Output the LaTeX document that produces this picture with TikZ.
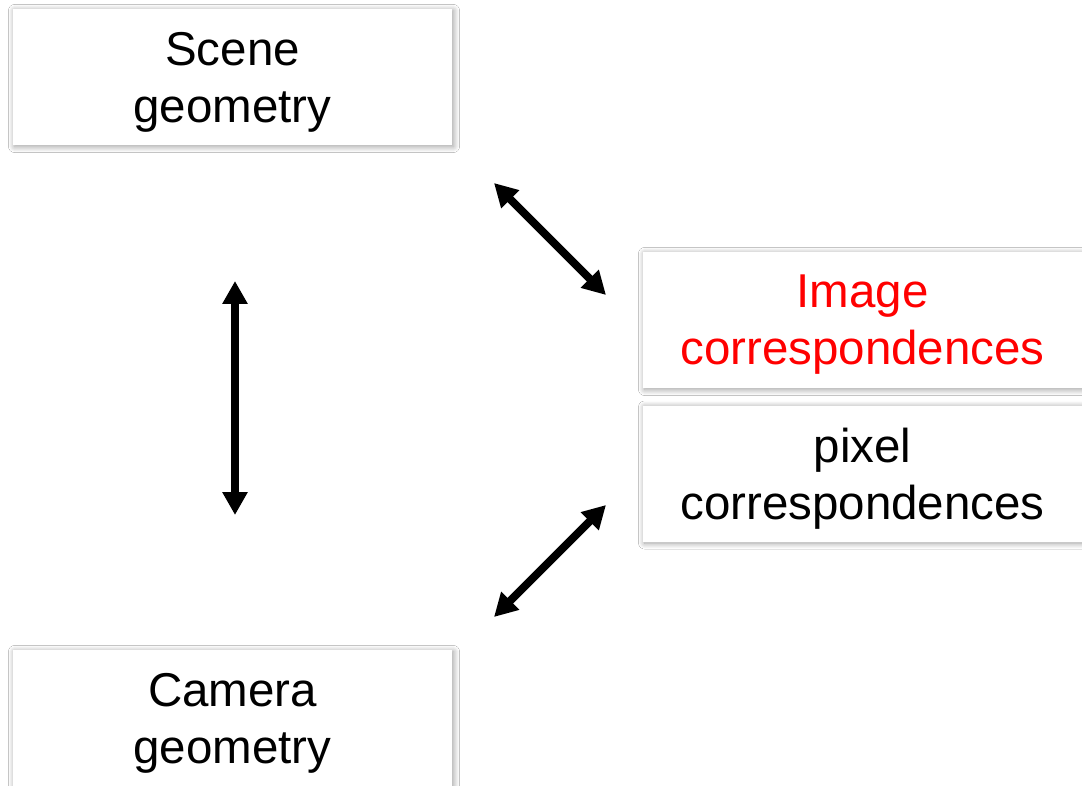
\documentclass[tikz,border=0pt]{standalone}
\usepackage{fontspec}
\setmainfont{Liberation Sans}
\usetikzlibrary{arrows.meta,shadows.blur}
\begin{document}
\begin{tikzpicture}[x=1pt,y=-1pt,
  box/.style={draw=none,fill=white,minimum width=439pt,minimum height=136pt,inner sep=0pt,
    blur shadow={shadow xshift=1.5pt,shadow yshift=-1.5pt,shadow blur radius=6pt,shadow opacity=40,shadow blur steps=12}},
  lbl/.style={align=center,inner sep=0pt,font=\fontsize{47.5}{57}\selectfont},
  dbl/.style={line width=8pt,{Triangle[width=24pt,length=23pt]}-{Triangle[width=24pt,length=23pt]}}]
\useasboundingbox[fill=white] (0,0) rectangle (1082,786);
\node[box] (scene) at (232.5,77) {};
\node[lbl] (sceneT) at ([yshift=-5pt]scene.center) {Scene\\geometry};
\node[box] (camera) at (232.5,718) {};
\node[lbl] (cameraT) at ([yshift=-5pt]camera.center) {Camera\\geometry};
\node[box] (image) at (862.5,320) {};
\node[lbl,text=red] (imageT) at ([yshift=-5pt]image.center) {Image\\correspondences};
\node[box] (pixel) at (862.5,473.5) {};
\node[lbl] (pixelT) at ([yshift=-5pt]pixel.center) {pixel\\correspondences};
\coordinate (v1) at (235,281);
\coordinate (v2) at (235,515);
\coordinate (d1) at (494,183);
\coordinate (d2) at (606,295);
\coordinate (e1) at (606,505);
\coordinate (e2) at (494,617);
\draw[dbl] (v1) -- (v2);
\draw[dbl] (d1) -- (d2);
\draw[dbl] (e1) -- (e2);
\end{tikzpicture}
\end{document}
